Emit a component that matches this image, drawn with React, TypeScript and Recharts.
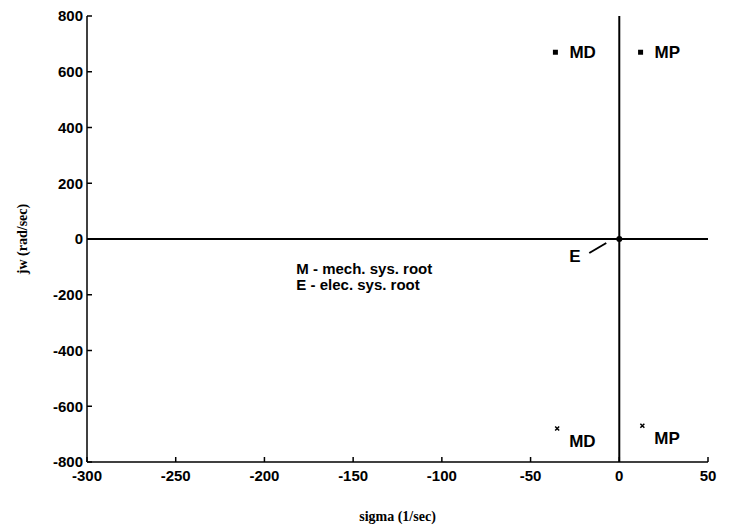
import { ScatterChart, Scatter, XAxis, YAxis, ReferenceLine, ReferenceDot } from 'recharts';

// mechanical roots
const rootNames = ['MD', 'MP', 'MD', 'MP'];
const rootSigma = [-36, 12, -35, 13];
const rootJw = [670, 670, -680, -670];

// electrical root
const elecNames = ['E'];
const elecSigma = [0];
const elecJw = [0];

const sigmaTicks = [-300, -250, -200, -150, -100, -50, 0, 50];
const jwTicks = [-800, -600, -400, -200, 0, 200, 400, 600, 800];

const notes = ['M - mech. sys. root', 'E - elec. sys. root'];
const noteSigma = -182;
const noteJw = -124;

const rootData = rootNames.map((name, i) => ({ name, sigma: rootSigma[i], jw: rootJw[i] }));
const elecData = elecNames.map((name, i) => ({ name, sigma: elecSigma[i], jw: elecJw[i] }));

const sans = 'Liberation Sans, Arial, sans-serif';
const serif = 'Liberation Serif, Times New Roman, serif';

function RootMark(props: any) {
  const { cx, cy, payload } = props;
  const upper = payload.jw > 0;
  return (
    <g>
      {upper ? (
        <rect x={cx - 2.5} y={cy - 2.5} width={5} height={5} fill="#000" />
      ) : (
        <path
          d={`M${cx - 2},${cy - 2}L${cx + 2},${cy + 2}M${cx + 2},${cy - 2}L${cx - 2},${cy + 2}`}
          stroke="#000"
          strokeWidth={1.5}
        />
      )}
      <text
        x={cx + (upper ? 14 : 12)}
        y={cy + (upper ? 6 : 18)}
        fontFamily={sans}
        fontWeight="bold"
        fontSize={17}
        fill="#000"
      >
        {payload.name}
      </text>
    </g>
  );
}

function ElecMark(props: any) {
  const { cx, cy, payload } = props;
  return (
    <g>
      <circle cx={cx} cy={cy} r={3} fill="#000" />
      <line x1={cx - 13} y1={cy + 4} x2={cx - 30} y2={cy + 14} stroke="#000" strokeWidth={2} />
      <text x={cx - 50} y={cy + 23} fontFamily={sans} fontWeight="bold" fontSize={17} fill="#000">
        {payload.name}
      </text>
    </g>
  );
}

function NoteText(props: any) {
  const { cx, cy } = props;
  return (
    <g>
      {notes.map((line, i) => (
        <text key={line} x={cx} y={cy + i * 16} fontFamily={sans} fontWeight="bold" fontSize={15} fill="#000">
          {line}
        </text>
      ))}
    </g>
  );
}

const tickStyle = { fill: '#000', fontSize: 15, fontWeight: 'bold', fontFamily: sans };

export default function App() {
  return (
    <div style={{ position: 'absolute', left: 0, top: 0, background: '#fff' }}>
      <ScatterChart width={730} height={527} margin={{ top: 16, right: 22, bottom: 0, left: 0 }}>
        <XAxis
          type="number"
          dataKey="sigma"
          domain={[-300, 50]}
          ticks={sigmaTicks}
          height={65}
          tickSize={-5}
          tickMargin={13}
          tick={tickStyle}
          axisLine={{ stroke: '#000', strokeWidth: 1.5 }}
          tickLine={{ stroke: '#000', strokeWidth: 1.5 }}
          allowDataOverflow
          label={{
            value: 'sigma (1/sec)',
            position: 'insideBottom',
            offset: 6,
            style: { fontFamily: serif, fontWeight: 'bold', fontSize: 14, fill: '#000' },
          }}
        />
        <XAxis
          xAxisId="top"
          orientation="top"
          type="number"
          domain={[-300, 50]}
          ticks={sigmaTicks}
          mirror
          height={0}
          tickSize={5}
          tick={false}
          axisLine={{ stroke: '#000', strokeWidth: 1.5 }}
          tickLine={{ stroke: '#000', strokeWidth: 1.5 }}
        />
        <YAxis
          type="number"
          dataKey="jw"
          domain={[-800, 800]}
          ticks={jwTicks}
          width={87}
          tickSize={-5}
          tickMargin={9}
          tick={tickStyle}
          axisLine={{ stroke: '#000', strokeWidth: 1.5 }}
          tickLine={{ stroke: '#000', strokeWidth: 1.5 }}
          allowDataOverflow
          label={{
            value: 'jw (rad/sec)',
            angle: -90,
            position: 'insideLeft',
            offset: 22,
            style: { textAnchor: 'middle', fontFamily: serif, fontWeight: 'bold', fontSize: 14, fill: '#000' },
          }}
        />
        <YAxis
          yAxisId="right"
          orientation="right"
          type="number"
          domain={[-800, 800]}
          ticks={jwTicks}
          mirror
          width={0}
          tickSize={5}
          tick={false}
          axisLine={{ stroke: '#000', strokeWidth: 1.5 }}
          tickLine={{ stroke: '#000', strokeWidth: 1.5 }}
        />
        <ReferenceLine x={0} stroke="#000" strokeWidth={2} />
        <ReferenceLine y={0} stroke="#000" strokeWidth={2} />
        <ReferenceDot x={noteSigma} y={noteJw} r={0} shape={NoteText} />
        <Scatter data={rootData} shape={RootMark} isAnimationActive={false} />
        <Scatter data={elecData} shape={ElecMark} isAnimationActive={false} />
      </ScatterChart>
    </div>
  );
}
